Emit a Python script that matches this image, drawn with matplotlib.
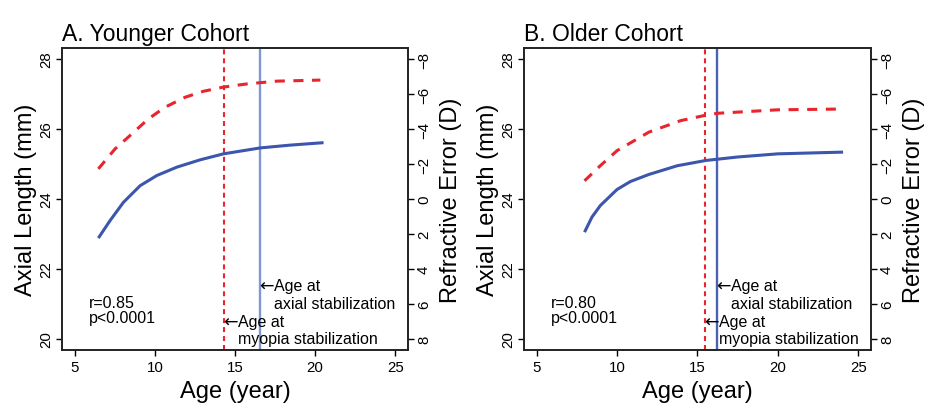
import matplotlib
matplotlib.use('Agg')
import matplotlib.pyplot as plt

plt.rcParams['font.family'] = ['Liberation Sans', 'DejaVu Sans']

# --- data ---
# A. Younger cohort
young_al_age = [6.47, 7.2, 8.03, 9.08, 10.12, 11.37, 12.83, 14.28, 16.58, 18.45, 20.53]
young_al = [22.88, 23.38, 23.90, 24.38, 24.67, 24.91, 25.12, 25.29, 25.46, 25.54, 25.61]
young_re_age = [6.47, 7.51, 8.56, 9.59, 10.64, 11.89, 13.03, 14.28, 15.74, 17.62, 20.33]
young_re = [-1.72, -2.86, -3.72, -4.58, -5.25, -5.82, -6.16, -6.40, -6.58, -6.74, -6.80]
young_myopia_stab = 14.3
young_axial_stab = 16.55
young_r = "r=0.85"

# B. Older cohort
old_al_age = [7.97, 8.43, 8.95, 9.99, 10.83, 11.97, 13.74, 15.51, 17.49, 19.99, 24.06]
old_al = [23.05, 23.48, 23.81, 24.27, 24.50, 24.70, 24.95, 25.10, 25.20, 25.29, 25.34]
old_re_age = [7.97, 8.95, 9.99, 11.97, 13.95, 15.41, 16.24, 19.99, 23.63]
old_re = [-1.04, -1.90, -2.76, -3.82, -4.48, -4.77, -4.90, -5.10, -5.14]
old_myopia_stab = 15.45
old_axial_stab = 16.2
old_r = "r=0.80"

p_text = "p<0.0001"
x_ticks = [5, 10, 15, 20, 25]
al_ticks = [20, 22, 24, 26, 28]
re_ticks = [-8, -6, -4, -2, 0, 2, 4, 6, 8]

RED = "#e8252e"
BLUE = "#3c55ad"
FS_NOTE = 11.5


def draw_panel(ax, title, al_age, al, re_age, re, myo_x, ax_x, r_txt, vcol):
    ax.set_xlim(4.2, 25.8)
    ax.set_ylim(19.68, 28.32)
    ax.plot(al_age, al, color=BLUE, lw=2.2, solid_capstyle='butt',
            solid_joinstyle='round', zorder=3)
    ax.axvline(ax_x, color=vcol, lw=1.7, zorder=2)
    ax.axvline(myo_x, color=RED, lw=1.5, dashes=(2.4, 1.9), zorder=2)

    ax2 = ax.twinx()
    ax2.set_ylim(8.64, -8.64)
    ax2.plot(re_age, re, color=RED, lw=2.2, dashes=(3.3, 2.8), zorder=3)

    ax.set_xticks(x_ticks)
    ax.set_yticks(al_ticks)
    ax2.set_yticks(re_ticks)
    ax2.set_yticklabels(["\u2212%d" % -v if v < 0 else "%d" % v for v in re_ticks])
    ax.tick_params(axis='x', labelsize=10.8, length=4.5, width=1, pad=3)
    ax.tick_params(axis='y', labelsize=10.8, length=4.5, width=1, pad=2, labelrotation=90)
    ax2.tick_params(axis='y', labelsize=10.8, length=4.5, width=1, pad=2, labelrotation=90)
    for lab in ax.get_yticklabels() + ax2.get_yticklabels():
        lab.set_verticalalignment('center')
    for sp in list(ax.spines.values()) + list(ax2.spines.values()):
        sp.set_linewidth(1.2)
        sp.set_color("#222222")

    # annotations with arrow glyphs
    for x0, y1, y2, second in [(ax_x, 21.52, 21.01, "axial stabilization"),
                               (myo_x, 20.5, 20.01, "myopia stabilization")]:
        ax.text(x0 - 0.05, y1, "\u2190", fontsize=FS_NOTE + 1, family='DejaVu Sans',
                ha='left', va='center', zorder=4)
        ax.text(x0 + 0.9, y1, "Age at", fontsize=FS_NOTE, ha='left', va='center', zorder=4)
        ax.text(x0 + 0.9, y2, second, fontsize=FS_NOTE, ha='left', va='center', zorder=4)
    ax.text(5.9, 21.03, r_txt, fontsize=FS_NOTE, ha='left', va='center')
    ax.text(5.9, 20.61, p_text, fontsize=FS_NOTE, ha='left', va='center')

    # titles and axis labels
    ax.text(0, 1 + 8 / 302, title, transform=ax.transAxes, fontsize=16.5,
            ha='left', va='baseline')
    ax.text(0.5, -0.135, "Age (year)", transform=ax.transAxes, fontsize=17,
            ha='center', va='center')
    ax.text(-0.105, 0.5, "Axial Length (mm)", transform=ax.transAxes, fontsize=17,
            ha='center', va='center', rotation=90)
    ax.text(1.125, 0.5, "Refractive Error (D)", transform=ax.transAxes, fontsize=17,
            ha='center', va='center', rotation=90)


fig = plt.figure(figsize=(9.39, 4.06), dpi=100)
axA = fig.add_axes([0.066, 0.1355, 0.3685, 0.744])
axB = fig.add_axes([0.558, 0.1355, 0.3696, 0.744])

draw_panel(axA, "A. Younger Cohort", young_al_age, young_al, young_re_age, young_re,
           young_myopia_stab, young_axial_stab, young_r, "#8097d6")
draw_panel(axB, "B. Older Cohort", old_al_age, old_al, old_re_age, old_re,
           old_myopia_stab, old_axial_stab, old_r, "#4a62b5")

fig.savefig("out.png", dpi=100)
